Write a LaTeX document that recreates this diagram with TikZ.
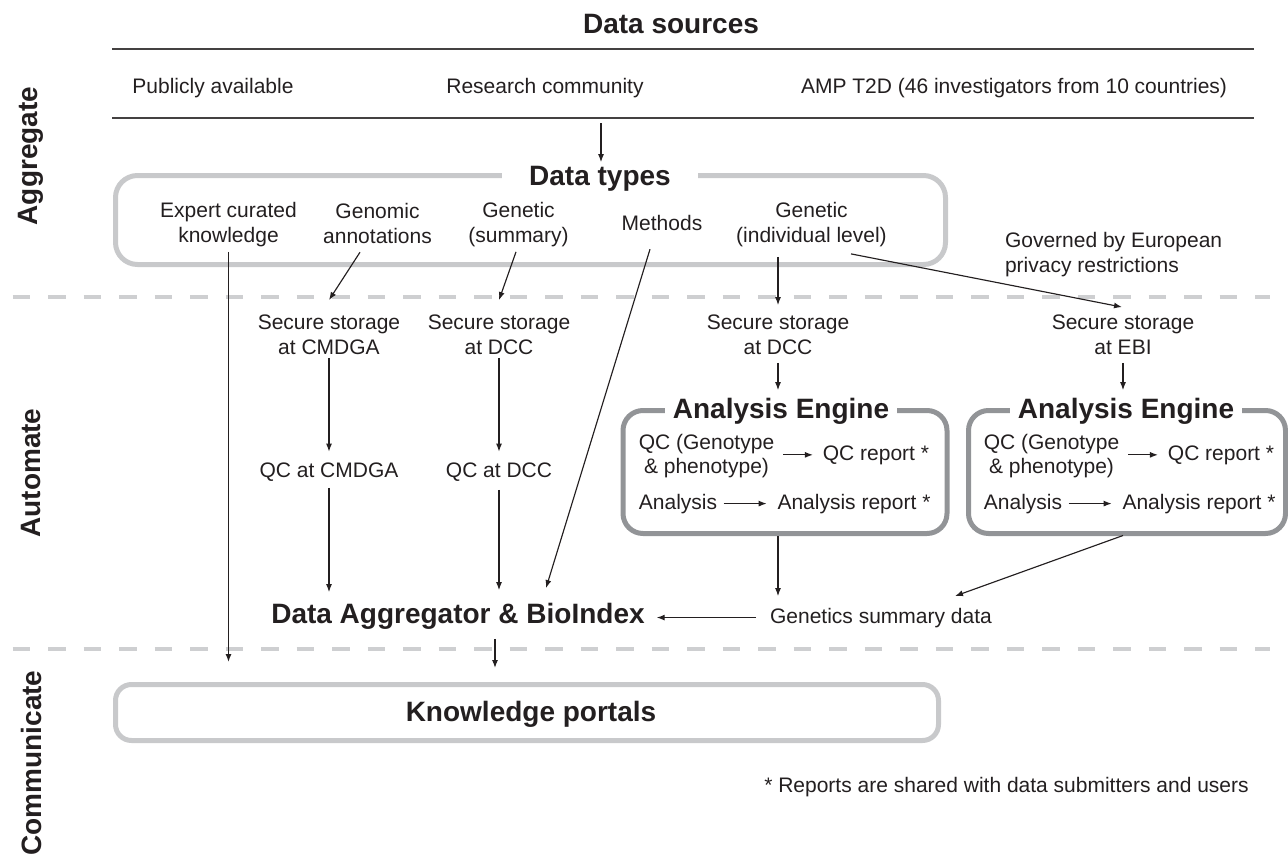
\documentclass[tikz,border=0pt]{standalone}
\usepackage{fontspec}
\setmainfont{Liberation Sans}
\usetikzlibrary{arrows.meta,calc}
\definecolor{ink}{RGB}{35,31,32}
\definecolor{lightframe}{RGB}{200,201,203}
\definecolor{darkframe}{RGB}{146,148,151}
\definecolor{dashgray}{RGB}{206,207,209}
\begin{document}
\begin{tikzpicture}[x=1pt,y=-1pt,
  every node/.style={text=ink, inner sep=0pt, outer sep=0pt},
  lbl/.style={font=\fontsize{21}{25}\selectfont},
  lblc/.style={lbl, align=center},
  englbl/.style={font=\fontsize{21}{24}\selectfont, align=center},
  ttl/.style={font=\fontsize{28}{32}\selectfont\bfseries},
  side/.style={font=\fontsize{28}{32}\selectfont\bfseries, rotate=90},
  arr/.style={draw=ink, line width=1.15pt, -{Latex[length=8pt,width=6pt]}},
  rulestyle/.style={draw=ink!85, line width=1.2pt},
  band/.style={draw=dashgray, line width=4pt, dash pattern=on 17.5pt off 18pt},
  softframe/.style={draw=lightframe, line width=5pt, rounded corners=22pt},
  engframe/.style={draw=darkframe, line width=5pt, rounded corners=20pt},
  frametitle/.style={ttl, fill=white, inner ysep=0pt}
]
\useasboundingbox (0,0) rectangle (1288,857);

% --- stage labels ---
\node[side] (lblAgg) at (31,156) {Aggregate};
\node[side] (lblAut) at (31,473) {Automate};
\node[side] (lblCom) at (31,763) {Communicate};

% --- stage separators ---
\coordinate (bandAL) at (12.7,297); \coordinate (bandAR) at (1270,297);
\coordinate (bandBL) at (12.7,649); \coordinate (bandBR) at (1270,649);
\draw[band] (bandAL) -- (bandAR);
\draw[band] (bandBL) -- (bandBR);

% --- data sources ---
\node[ttl, anchor=base] (src) at (671,33) {Data sources};
\coordinate (ruleAL) at (112,49);  \coordinate (ruleAR) at (1254,49);
\coordinate (ruleBL) at (112,118); \coordinate (ruleBR) at (1254,118);
\draw[rulestyle] (ruleAL) -- (ruleAR);
\draw[rulestyle] (ruleBL) -- (ruleBR);
\node[lbl, anchor=base] (pub) at (213,93) {Publicly available};
\node[lbl, anchor=base] (res) at (545,93) {Research community};
\node[lbl, anchor=base] (amp) at (1014,93) {AMP T2D (46 investigators from 10 countries)};

% --- data types ---
\node[softframe, minimum width=830pt, minimum height=89pt] (typesbox) at (530.5,220) {};
\node[frametitle, inner xsep=27pt, anchor=base] (typesttl) at (600,185) {Data types};
\node[lblc] (expert) at (228.5,225) {Expert curated\\knowledge};
\node[lblc] (genomic) at (377.5,223) {Genomic\\annotations};
\node[lblc] (gensum) at (518.5,225) {Genetic\\(summary)};
\node[lbl, anchor=base] (methods) at (662,230) {Methods};
\node[lblc] (genind) at (811.5,225) {Genetic\\(individual level)};
\node[lbl, align=left, anchor=west] (gov) at (1005,255) {Governed by European\\privacy restrictions};

% --- storage and QC ---
\node[lblc] (ssA) at (329,335) {Secure storage\\at CMDGA};
\node[lblc] (ssB) at (499,335) {Secure storage\\at DCC};
\node[lblc] (ssC) at (778,335) {Secure storage\\at DCC};
\node[lblc] (ssD) at (1123,335) {Secure storage\\at EBI};
\node[lbl, anchor=base] (qcA) at (329,477) {QC at CMDGA};
\node[lbl, anchor=base] (qcB) at (499,477) {QC at DCC};

% --- analysis engines ---
\node[engframe, minimum width=324pt, minimum height=123pt] (engA) at (785,472) {};
\node[engframe, minimum width=317pt, minimum height=123pt] (engB) at (1127,472) {};
\node[frametitle, inner xsep=8pt, anchor=base] (engAt) at (781,418) {Analysis Engine};
\node[frametitle, inner xsep=8pt, anchor=base] (engBt) at (1126,418) {Analysis Engine};

\node[englbl] (qcgA) at (706.5,456.5) {QC (Genotype\\\& phenotype)};
\node[lbl, anchor=base] (qcrA) at (876,460) {QC report *};
\node[lbl, anchor=base] (anA) at (678,509) {Analysis};
\node[lbl, anchor=base] (anrA) at (854,509) {Analysis report *};

\node[englbl] (qcgB) at (1051.5,456.5) {QC (Genotype\\\& phenotype)};
\node[lbl, anchor=base] (qcrB) at (1221,460) {QC report *};
\node[lbl, anchor=base] (anB) at (1023,509) {Analysis};
\node[lbl, anchor=base] (anrB) at (1199,509) {Analysis report *};

% --- aggregation and portals ---
\node[ttl, anchor=base] (agg) at (458,623) {Data Aggregator \& BioIndex};
\node[lbl, anchor=base] (gsd) at (881,623) {Genetics summary data};
\node[softframe, rounded corners=16pt, minimum width=823pt, minimum height=56pt] (portals) at (527,712.5) {};
\node[ttl, anchor=base] (portalsttl) at (531,721) {Knowledge portals};
\node[lbl, anchor=base] (note) at (1006.5,792) {* Reports are shared with data submitters and users};

% --- connectors ---
\coordinate (srcout) at (601,123);
\draw[arr, shorten >=3.6pt] (srcout) -- (srcout |- typesttl.north);

\draw[arr, shorten >=22.5pt] ([yshift=-4.6pt]expert.south) -- (portals.north -| expert.south);
\draw[arr] ([xshift=-17.5pt,yshift=-9pt]genomic.south) -- ([yshift=15pt]ssA.north);
\draw[arr] ([xshift=-2.5pt,yshift=-4.6pt]gensum.south) -- ([yshift=15pt]ssB.north);
\draw[arr] ([xshift=-12pt,yshift=-19pt]methods.south) -- ([xshift=88pt,yshift=14.6pt]agg.north);
\draw[arr] ([xshift=-33.5pt,yshift=-9.6pt]genind.south) -- ([yshift=10pt]ssC.north);
\draw[arr] ([xshift=39.5pt,yshift=-6.6pt]genind.south) -- ([xshift=-1pt,yshift=8pt]ssD.north);

\draw[arr] ([yshift=-3pt]ssA.south) -- ([yshift=10.7pt]qcA.north);
\draw[arr] ([yshift=-3pt]ssB.south) -- ([yshift=10.7pt]qcB.north);
\draw[arr, shorten >=10.6pt] ([yshift=-7pt]qcA.south) -- (agg.north -| qcA.south);
\draw[arr, shorten >=12.6pt] ([yshift=-9pt]qcB.south) -- (agg.north -| qcB.south);

\draw[arr, shorten >=7.6pt] ([yshift=-8pt]ssC.south) -- (engAt.north -| ssC.south);
\draw[arr, shorten >=7.6pt] ([yshift=-8pt]ssD.south) -- (engBt.north -| ssD.south);

\draw[arr, shorten <=8.8pt, shorten >=10pt] (qcgA.east |- qcrA.west) -- (qcrA.west);
\draw[arr, shorten <=6.6pt, shorten >=10.9pt] (anA.east) -- (anrA.west);
\draw[arr, shorten <=8.8pt, shorten >=10pt] (qcgB.east |- qcrB.west) -- (qcrB.west);
\draw[arr, shorten <=6.6pt, shorten >=10.9pt] (anB.east) -- (anrB.west);

\coordinate (engAout) at ([xshift=-7pt,yshift=-2.5pt]engA.south);
\draw[arr, shorten >=11.7pt] (engAout) -- (gsd.north -| engAout);
\draw[arr] ([xshift=-4pt,yshift=-2pt]engB.south) -- ([xshift=74pt,yshift=11.7pt]gsd.north);
\draw[arr, shorten <=14pt, shorten >=12pt] (gsd.west) -- (agg.east |- gsd.west);

\coordinate (aggout) at ([xshift=37pt,yshift=-10pt]agg.south);
\draw[arr, shorten >=16.5pt] (aggout) -- (portals.north -| aggout);
\end{tikzpicture}
\end{document}
